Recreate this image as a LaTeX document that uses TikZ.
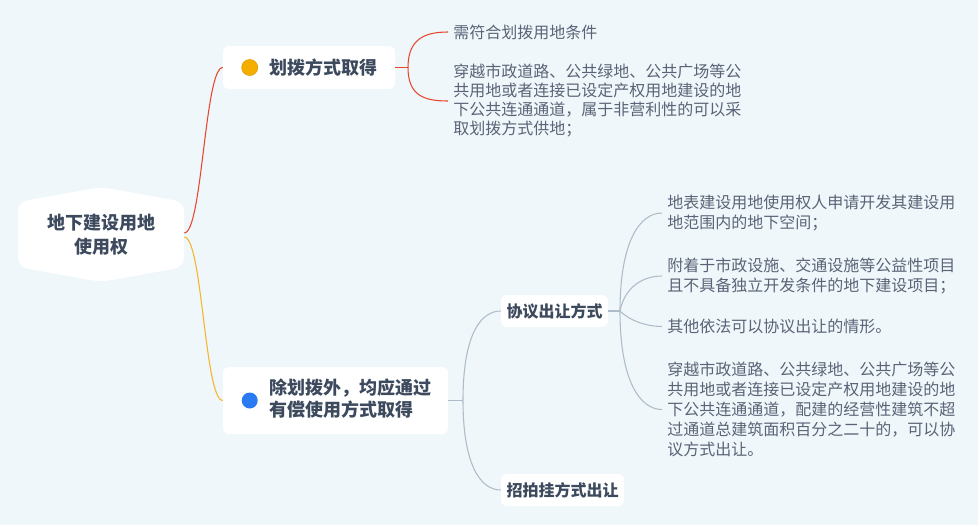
\documentclass[tikz,border=0pt]{standalone}
\usepackage{fontspec}
\setmainfont{Noto Sans CJK SC}
\usetikzlibrary{calc}
\definecolor{bgc}{HTML}{EFF7FA}
\definecolor{darktext}{HTML}{3D4A5E}
\definecolor{leaftext}{HTML}{5A6377}
\definecolor{redl}{HTML}{E8472D}
\definecolor{yell}{HTML}{F6B52A}
\definecolor{grayl}{HTML}{AEBCCA}
\definecolor{dotorange}{HTML}{F5AE00}
\definecolor{dotorangeb}{HTML}{E39F00}
\definecolor{dotblue}{HTML}{2A7AF3}
\begin{document}
\begin{tikzpicture}[x=0.75pt,y=-0.75pt,
  boxnode/.style={fill=white, rounded corners=4.5pt, inner sep=0pt},
  bigtext/.style={text=darktext, font=\bfseries\fontsize{13.5}{16.5}\selectfont, inner sep=0pt, align=left},
  midtext/.style={text=darktext, font=\bfseries\fontsize{12}{15}\selectfont},
  leaf/.style={text=leaftext, font=\fontsize{12}{15}\selectfont, align=left, anchor=west, inner xsep=3.75pt, inner ysep=0pt},
  dotnode/.style={circle, minimum size=12pt, inner sep=0pt},
  conn/.style={line width=0.8pt}]
\fill[bgc] (0,0) rectangle (978,525);
\useasboundingbox (0,0) rectangle (978,525);

% root
\fill[white, rounded corners=7pt] (18,202) -- (101,187) -- (184,202) -- (184,267) -- (101,282) -- (18,267) -- cycle;
\node[bigtext, align=center, font=\bfseries\fontsize{13.5}{18}\selectfont, minimum width=124.5pt, minimum height=71.25pt] (root) at (101,235) {地下建设用地\\使用权};

% branch 1
\node[boxnode, minimum width=129pt, minimum height=32.25pt] (b1) at (309,67.5) {};
\node[dotnode, fill=dotorange, draw=dotorangeb, line width=0.5pt] (b1d) at ($(b1.west)+(27,0)$) {};
\node[bigtext, anchor=west] (b1t) at ($(b1.west)+(46,0)$) {划拨方式取得};

% branch 2
\node[boxnode, minimum width=168.75pt, minimum height=50.25pt] (b2) at (335.5,400.5) {};
\node[dotnode, fill=dotblue] (b2d) at ($(b2.west)+(27,0)$) {};
\node[bigtext, anchor=west] (b2t) at ($(b2.west)+(46,-1.5)$) {除划拨外，均应通过\\有偿使用方式取得};

% sub-branches
\node[boxnode, midtext, minimum width=80.25pt, minimum height=24pt] (s1) at (554.5,311) {协议出让方式};
\node[boxnode, midtext, minimum width=92.25pt, minimum height=24pt] (s2) at (562.5,490) {招拍挂方式出让};

% leaves of branch 1
\node[leaf] (l1a) at (448,32) {需符合划拨用地条件};
\node[leaf, font=\fontsize{12}{14.25}\selectfont] (l1b) at (448,101) {穿越市政道路、公共绿地、公共广场等公\\共用地或者连接已设定产权用地建设的地\\下公共连通通道，属于非营利性的可以采\\取划拨方式供地；};

% leaves of s1
\node[leaf] (l2a) at (662,213) {地表建设用地使用权人申请开发其建设用\\地范围内的地下空间；};
\node[leaf] (l2b) at (662,276) {附着于市政设施、交通设施等公益性项目\\且不具备独立开发条件的地下建设项目；};
\node[leaf] (l2c) at (662,326.5) {其他依法可以协议出让的情形。};
\node[leaf] (l2d) at (662,409.5) {穿越市政道路、公共绿地、公共广场等公\\共用地或者连接已设定产权用地建设的地\\下公共连通通道，配建的经营性建筑不超\\过通道总建筑面积百分之二十的，可以协\\议方式出让。};

% fork points
\coordinate (f1) at (408,67.5);
\coordinate (f2) at (463,400.5);
\coordinate (f3) at (620,311);

% connectors
\draw[conn, redl] ([yshift=1.5pt]root.east) .. controls +(18,0) and +(-18,0) .. (b1.west);
\draw[conn, yell] ([yshift=-1.5pt]root.east) .. controls +(18,0) and +(-18,0) .. (b2.west);

\draw[conn, redl] (b1.east) -- (f1);
\draw[conn, redl] (f1) .. controls +(0,-28) and +(-24,0) .. (l1a.west);
\draw[conn, redl] (f1) .. controls +(0,28) and +(-24,0) .. (l1b.west);

\draw[conn, grayl] (b2.east) -- (f2);
\draw[conn, grayl] (f2) .. controls +(0,-70) and +(-18,0) .. (s1.west);
\draw[conn, grayl] (f2) .. controls +(0,65) and +(-20,0) .. (s2.west);

\draw[conn, grayl] (s1.east) -- (f3);
\draw[conn, grayl] (f3) .. controls +(0,-70) and +(-22,0) .. (l2a.west);
\draw[conn, grayl] (f3) .. controls +(5,-25) and +(-18,0) .. (l2b.west);
\draw[conn, grayl] (f3) .. controls +(10,10) and +(-15,0) .. (l2c.west);
\draw[conn, grayl] (f3) .. controls +(0,70) and +(-22,0) .. (l2d.west);
\end{tikzpicture}
\end{document}
